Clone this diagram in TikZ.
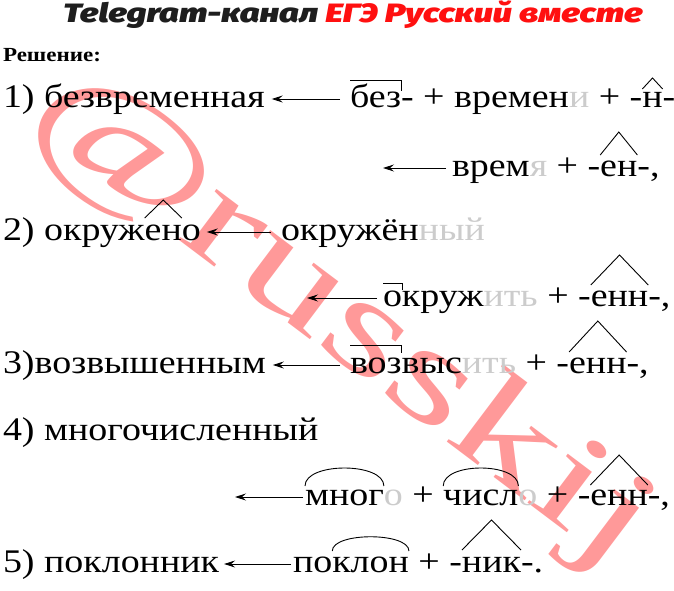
\documentclass[tikz,border=0pt]{standalone}
\usepackage{fontspec}
\usepackage{tikz}
\usetikzlibrary{arrows.meta}
\setmainfont{Liberation Serif}[FakeStretch=1.15]
\newfontfamily\headfont{Fira Sans Black Italic}[FakeStretch=1.3]
\newfontfamily\wmfont{Liberation Serif}[FakeStretch=1.5]
\definecolor{tgred}{HTML}{FF1010}
\definecolor{tgblack}{HTML}{1E1E1E}

\begin{document}
\begin{tikzpicture}[x=1pt, y=1pt,
    every node/.style = {inner sep=0pt, outer sep=0pt, anchor=base west,
      font=\fontsize{33}{40}\selectfont},
    nul/.style = {text=gray!40},
    arr/.style = {-{Stealth[length=11pt,width=7pt,inset=4pt]}, line width=0.9pt},
    mrk/.style = {line width=0.9pt}]
  \clip (0,0) rectangle (674,-591);
  % watermark
  \node[font=\wmfont\fontsize{138}{138}\selectfont, text=red!40,
    anchor=center, rotate=-37] (wm) at (340,-320) {@russkij};
  % heading
  \node[font=\headfont\fontsize{26.5}{30}\selectfont, anchor=base] (head)
    at (353,-23) {\textcolor{tgblack}{Telegram-канал} \textcolor{tgred}{ЕГЭ Русский вместе}};
  \node[font=\bfseries\fontsize{20}{24}\selectfont] (sol) at (3,-62) {Решение:};

  % 1) безвременная
  \node (w1) at (3,-107) {1)~безвременная};
  \node (r1a) at (350,-107) {без};
  \node (r1b) at (r1a.base east) {-~+~времен};
  \node[nul] (r1c) at (r1b.base east) {и};
  \node (r1d) at (r1c.base east) {~+~-};
  \node (r1e) at (r1d.base east) {н};
  \node (r1f) at (r1e.base east) {-};
  \draw[arr] ([xshift=-10pt,yshift=8pt]r1a.base west) -- ([xshift=7pt,yshift=8pt]w1.base east);
  \draw[mrk] ([yshift=27pt]r1a.base west) -- ([yshift=27pt]r1a.base east) -- ([yshift=16pt]r1a.base east);
  \draw[mrk] ([yshift=18pt]r1e.base west) -- ([yshift=29pt]r1e.base) -- ([yshift=18pt]r1e.base east);

  \coordinate (t2) at (383,-168);
  \node (r2a) at (452,-176) {врем};
  \node[nul] (r2b) at (r2a.base east) {я};
  \node (r2c) at (r2b.base east) {~+~-};
  \node (r2d) at (r2c.base east) {ен};
  \node (r2e) at (r2d.base east) {-,};
  \draw[arr] ([xshift=-6pt,yshift=8pt]r2a.base west) -- (t2);
  \draw[mrk] ([yshift=21pt]r2d.base west) -- ([yshift=44pt]r2d.base) -- ([yshift=21pt]r2d.base east);

  % 2) окружено
  \node (w2) at (3,-240) {2)~окруж};
  \node (w2b) at (w2.base east) {ен};
  \node (w2c) at (w2b.base east) {о};
  \draw[mrk] ([yshift=22pt]w2b.base west) -- ([yshift=40pt]w2b.base) -- ([yshift=22pt]w2b.base east);
  \node (r3a) at (281,-240) {окружён};
  \node[nul] (r3b) at (r3a.base east) {ный};
  \draw[arr] ([xshift=-10pt,yshift=8pt]r3a.base west) -- ([xshift=6pt,yshift=8pt]w2c.base east);

  \coordinate (t4) at (307,-298);
  \node (r4a) at (383,-306) {о};
  \node (r4b) at (r4a.base east) {круж};
  \node[nul] (r4c) at (r4b.base east) {ить};
  \node (r4d) at (r4c.base east) {~+~-};
  \node (r4e) at (r4d.base east) {енн};
  \node (r4f) at (r4e.base east) {-,};
  \draw[arr] ([xshift=-6pt,yshift=8pt]r4a.base west) -- (t4);
  \draw[mrk] ([yshift=23pt]r4a.base west) -- ([yshift=23pt]r4a.base east) -- ([yshift=16pt]r4a.base east);
  \draw[mrk] ([yshift=21pt]r4e.base west) -- ([yshift=51pt]r4e.base) -- ([yshift=21pt]r4e.base east);

  % 3)возвышенным
  \node (w3) at (3,-373) {3)возвышенным};
  \node (r5a) at (350,-373) {воз};
  \node (r5b) at (r5a.base east) {выс};
  \node[nul] (r5c) at (r5b.base east) {ить};
  \node (r5d) at (r5c.base east) {~+~-};
  \node (r5e) at (r5d.base east) {енн};
  \node (r5f) at (r5e.base east) {-,};
  \draw[arr] ([xshift=-10pt,yshift=8pt]r5a.base west) -- ([xshift=7pt,yshift=8pt]w3.base east);
  \draw[mrk] ([yshift=28pt]r5a.base west) -- ([yshift=28pt]r5a.base east) -- ([yshift=20pt]r5a.base east);
  \draw[mrk] ([yshift=21pt]r5e.base west) -- ([yshift=52pt]r5e.base) -- ([yshift=21pt]r5e.base east);

  % 4) многочисленный
  \node (w4) at (3,-440) {4)~многочисленный};
  \coordinate (t7) at (235,-497);
  \node (r7a) at (305,-505) {мног};
  \node[nul] (r7b) at (r7a.base east) {о};
  \node (r7c) at (r7b.base east) {~+~\null};
  \node (r7d) at (r7c.base east) {числ};
  \node[nul] (r7e) at (r7d.base east) {о};
  \node (r7f) at (r7e.base east) {~+~-};
  \node (r7g) at (r7f.base east) {енн};
  \node (r7h) at (r7g.base east) {-,};
  \draw[arr] ([xshift=-2pt,yshift=8pt]r7a.base west) -- (t7);
  \draw[mrk] ([yshift=19pt]r7a.base west) .. controls +(0,24) and +(0,24) .. ([yshift=19pt]r7a.base east);
  \draw[mrk] ([yshift=19pt]r7d.base west) .. controls +(0,24) and +(0,24) .. ([yshift=19pt]r7d.base east);
  \draw[mrk] ([yshift=20pt]r7g.base west) -- ([yshift=50pt]r7g.base) -- ([yshift=20pt]r7g.base east);

  % 5) поклонник
  \node (w5) at (3,-572) {5)~поклонник};
  \node (r8a) at (293,-572) {по};
  \node (r8b) at (r8a.base east) {клон};
  \node (r8c) at (r8b.base east) {~+~-};
  \node (r8d) at (r8c.base east) {ник};
  \node (r8e) at (r8d.base east) {-.};
  \draw[arr] ([xshift=-2pt,yshift=8pt]r8a.base west) -- ([xshift=5pt,yshift=8pt]w5.base east);
  \draw[mrk] ([yshift=21pt]r8b.base west) .. controls +(0,19) and +(0,19) .. ([yshift=21pt]r8b.base east);
  \draw[mrk] ([yshift=22pt]r8d.base west) -- ([yshift=52pt]r8d.base) -- ([yshift=22pt]r8d.base east);
\end{tikzpicture}
\end{document}
